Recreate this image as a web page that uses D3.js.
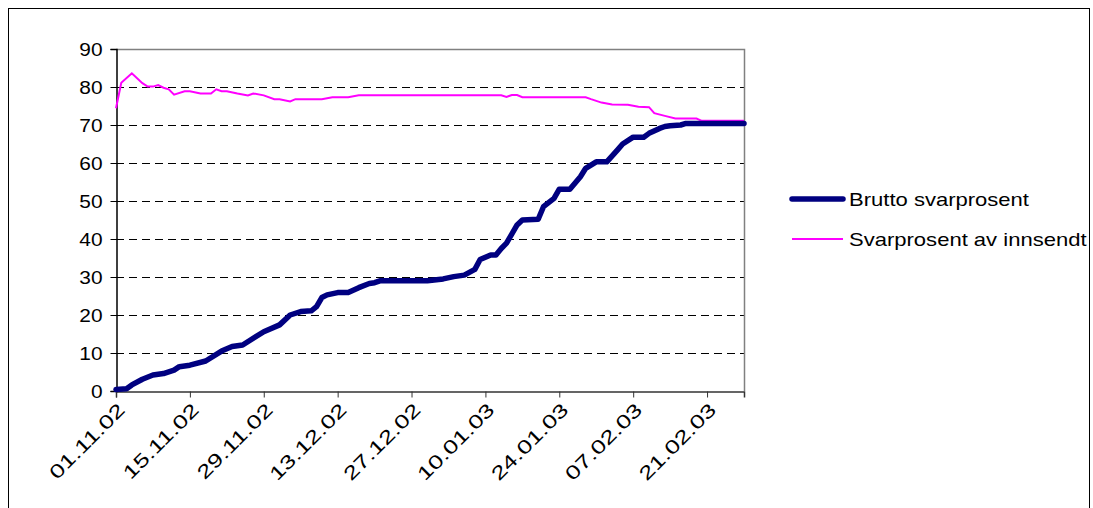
<!DOCTYPE html>
<html>
<head>
<meta charset="utf-8">
<script src="https://cdn.jsdelivr.net/npm/d3@7"></script>
<style>
  body { margin: 0; background: #fff; }
  text { font-family: "Liberation Sans", Arial, sans-serif; fill: #000; }
</style>
</head>
<body>
<div id="chart"></div>
<script>
// Brutto svarprosent
var brutto_dates = ['01.11.02','03.11.02','04.11.02','06.11.02','08.11.02','10.11.02','12.11.02','13.11.02',
    '15.11.02','18.11.02','21.11.02','23.11.02','25.11.02','29.11.02','02.12.02','04.12.02','06.12.02',
    '08.12.02','09.12.02','10.12.02','11.12.02','13.12.02','15.12.02','17.12.02','19.12.02','20.12.02',
    '21.12.02','30.12.02','02.01.03','04.01.03','06.01.03','08.01.03','09.01.03','11.01.03','12.01.03',
    '13.01.03','14.01.03','16.01.03','17.01.03','20.01.03','21.01.03','23.01.03','24.01.03','26.01.03',
    '28.01.03','29.01.03','31.01.03','02.02.03','04.02.03','05.02.03','07.02.03','09.02.03','10.02.03',
    '12.02.03','13.02.03','14.02.03','16.02.03','17.02.03','28.02.03'];
var brutto_values = [0.4, 0.6, 1.6, 3.1, 4.2, 4.6, 5.5, 6.4,
    6.8, 7.9, 10.5, 11.7, 12.1, 15.6, 17.4, 20.0, 20.9,
    21.1, 22.2, 24.6, 25.3, 25.9, 25.9, 27.2, 28.3, 28.5,
    29.0, 29.0, 29.5, 30.1, 30.5, 32.0, 34.6, 35.8, 35.8,
    37.5, 38.9, 43.7, 45.0, 45.2, 48.5, 50.7, 53.1, 53.1,
    56.4, 58.6, 60.3, 60.3, 63.4, 65.0, 66.8, 66.8, 67.8,
    69.1, 69.6, 69.8, 70.0, 70.4, 70.4];

// Svarprosent av innsendt
var innsendt_dates = ['01.11.02','02.11.02','04.11.02','06.11.02','07.11.02','08.11.02','09.11.02','10.11.02',
    '11.11.02','12.11.02','14.11.02','15.11.02','17.11.02','19.11.02','20.11.02','21.11.02','22.11.02',
    '24.11.02','26.11.02','27.11.02','29.11.02','01.12.02','02.12.02','04.12.02','05.12.02','10.12.02',
    '12.12.02','15.12.02','17.12.02','13.01.03','14.01.03','15.01.03','16.01.03','17.01.03','29.01.03',
    '30.01.03','01.02.03','03.02.03','06.02.03','08.02.03','10.02.03','11.02.03','13.02.03','15.02.03',
    '19.02.03','20.02.03','28.02.03'];
var innsendt_values = [74.4, 81.1, 83.6, 81.0, 80.1, 80.1, 80.5, 79.8,
    79.4, 78.0, 78.9, 78.9, 78.3, 78.3, 79.4, 78.9, 78.9,
    78.3, 77.8, 78.3, 77.8, 76.8, 76.8, 76.2, 76.8, 76.8,
    77.3, 77.3, 77.8, 77.8, 77.4, 77.9, 77.9, 77.3, 77.3,
    76.8, 75.9, 75.4, 75.3, 74.8, 74.7, 73.1, 72.4, 71.7,
    71.7, 71.1, 71.1];

var tick_dates = ['01.11.02','15.11.02','29.11.02','13.12.02','27.12.02','10.01.03','24.01.03','07.02.03','21.02.03'];
var y_ticks = [0, 10, 20, 30, 40, 50, 60, 70, 80, 90];
var series_names = ['Brutto svarprosent', 'Svarprosent av innsendt'];

var time_parse = d3.timeParse('%d.%m.%y');

var brutto = brutto_dates.map(function (d, i) {
    return { date: time_parse(d), num: brutto_values[i] }
})
var innsendt = innsendt_dates.map(function (d, i) {
    return { date: time_parse(d), num: innsendt_values[i] }
})

var chart_width = 1093;
var chart_height = 508;
var plot_left = 116, plot_right = 744, plot_top = 49, plot_bottom = 391;

var svg = d3.select('#chart')
    .append('svg')
    .attr('width', chart_width)
    .attr('height', chart_height)

// outer frame
svg.append('rect')
    .attr('x', 8.5).attr('y', 8.5)
    .attr('width', 1081).attr('height', 530)
    .attr('fill', 'none')
    .attr('stroke', '#000')

var x_scale = d3.scaleTime()
    .domain([time_parse('01.11.02'), time_parse('28.02.03')])
    .range([plot_left, plot_right])

var y_scale = d3.scaleLinear()
    .domain([0, 90])
    .range([plot_bottom, plot_top])

// gridlines
svg.append('g')
    .selectAll('line')
    .data(y_ticks.slice(1, -1))
    .enter()
    .append('line')
    .attr('x1', plot_left).attr('x2', plot_right)
    .attr('y1', function (d) { return Math.round(y_scale(d)) + 0.5 })
    .attr('y2', function (d) { return Math.round(y_scale(d)) + 0.5 })
    .attr('stroke', '#000')
    .attr('stroke-dasharray', '8,5')

// plot border top/right
svg.append('path')
    .attr('d', 'M' + plot_left + ',' + (plot_top + 0.5) + 'H' + (plot_right + 0.5) + 'V' + plot_bottom)
    .attr('fill', 'none')
    .attr('stroke', '#808080')
    .attr('stroke-width', 1.5)

// y axis
var y_axis = d3.axisLeft(y_scale)
    .tickValues(y_ticks)
    .tickSize(6)
    .tickPadding(0)
svg.append('g')
    .attr('transform', 'translate(' + (plot_left + 0.5) + ',0)')
    .call(y_axis)
    .call(function (g) {
        g.select('.domain').attr('stroke', '#000').attr('stroke-width', 1.5)
        g.selectAll('line').attr('stroke', '#000')
        g.selectAll('text')
            .attr('font-size', 18)
            .attr('font-family', '"Liberation Sans", Arial, sans-serif')
            .attr('x', 0)
            .attr('dy', '0.36em')
            .attr('transform', 'translate(-14,0) scale(1.16,1)')
    })

// x axis
var x_axis = d3.axisBottom(x_scale)
    .tickValues(tick_dates.map(time_parse))
    .tickFormat(d3.timeFormat('%d.%m.%y'))
    .tickSize(6)
svg.append('g')
    .attr('transform', 'translate(0,' + (plot_bottom + 0.5) + ')')
    .call(x_axis)
    .call(function (g) {
        g.select('.domain').attr('stroke', '#333').attr('stroke-width', 1.5)
        g.selectAll('line').attr('stroke', '#333')
        g.selectAll('text')
            .attr('font-size', 19)
            .attr('font-family', '"Liberation Sans", Arial, sans-serif')
            .attr('text-anchor', 'end')
            .attr('x', 0).attr('y', 0).attr('dy', '0.35em')
            .attr('transform', 'translate(5,15) rotate(-45) scale(1.35,1)')
    })

var line = d3.line()
    .x(function (d) { return x_scale(d.date) })
    .y(function (d) { return y_scale(d.num) })

svg.append('path')
    .datum(innsendt)
    .attr('d', line)
    .attr('fill', 'none')
    .attr('stroke', '#ff00ff')
    .attr('stroke-width', 2)

svg.append('path')
    .datum(brutto)
    .attr('d', line)
    .attr('fill', 'none')
    .attr('stroke', '#000080')
    .attr('stroke-width', 5.5)
    .attr('stroke-linejoin', 'round')
    .attr('stroke-linecap', 'round')

// legend
var legend = svg.append('g')
    .selectAll('g')
    .data(series_names)
    .enter()
    .append('g')
    .attr('transform', function (d, i) { return 'translate(792,' + (199 + i * 40) + ')' })

legend.append('line')
    .attr('x1', 0).attr('x2', 51)
    .attr('stroke', function (d, i) { return i == 0 ? '#000080' : '#ff00ff' })
    .attr('stroke-width', function (d, i) { return i == 0 ? 5.5 : 2 })
    .attr('stroke-linecap', function (d, i) { return i == 0 ? 'round' : 'butt' })

legend.append('text')
    .text(function (d) { return d })
    .attr('x', 0)
    .attr('y', 7)
    .attr('font-size', 19)
    .attr('transform', 'translate(57,0) scale(1.16,1)')
</script>
</body>
</html>
